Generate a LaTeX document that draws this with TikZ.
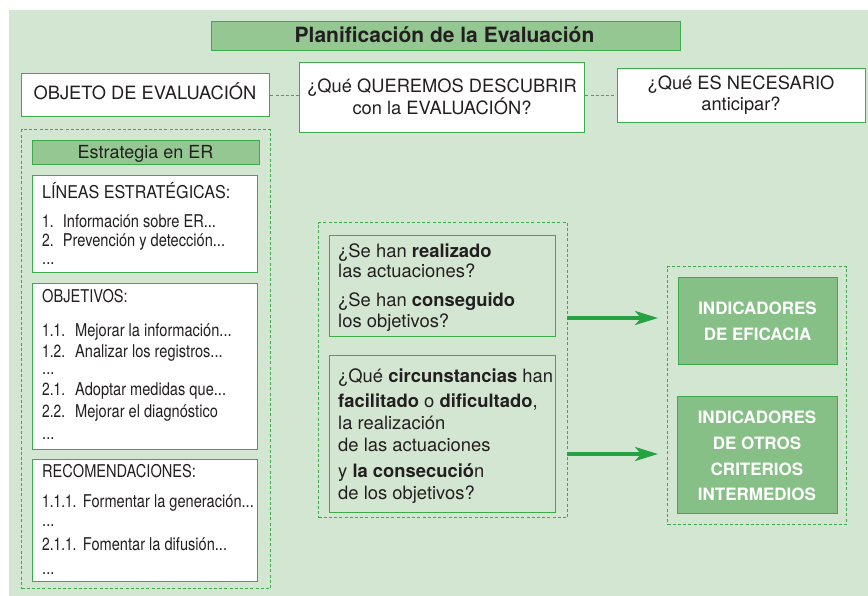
\documentclass[tikz,border=0pt]{standalone}
\usepackage{fontspec}
\setmainfont{TeX Gyre Heros}
\newfontfamily\condfont[FakeStretch=0.83]{TeX Gyre Heros}
\newfontfamily\condhead[FakeStretch=0.915]{TeX Gyre Heros}
\newfontfamily\numfont[FakeStretch=0.78]{TeX Gyre Heros}
\usetikzlibrary{arrows.meta}
\definecolor{bgc}{HTML}{D3E6D1}
\definecolor{gline}{HTML}{3DAB4B}
\definecolor{gfill}{HTML}{95C792}
\definecolor{ifill}{HTML}{87C087}
\definecolor{txt}{HTML}{231F20}
\definecolor{arr}{HTML}{27A243}
\tikzset{
  wbox/.style={draw=gline, line width=1.3pt, fill=white, inner sep=0pt, anchor=north west},
  mbox/.style={draw=gline, line width=1.3pt, inner sep=0pt, anchor=north west},
  gbox/.style={draw=gline, line width=1.3pt, fill=gfill, inner sep=0pt, anchor=north west},
  ibox/.style={draw=gline, line width=1.3pt, fill=ifill, inner sep=0pt, anchor=north west},
  dbox/.style={draw=gline, line width=1.1pt, dash pattern=on 3pt off 2.2pt, inner sep=0pt, anchor=north west},
  dlink/.style={draw=gline, line width=1.1pt, dash pattern=on 3pt off 2.2pt},
  alink/.style={draw=arr, line width=3.2pt, -{Stealth[length=23pt,width=14pt,inset=6pt]}, shorten >=9pt},
  ttl/.style={anchor=base, inner sep=0pt, text=txt, font=\bfseries\fontsize{21}{24}\selectfont},
  top/.style={anchor=base, inner sep=0pt, text=txt, font=\fontsize{18.3}{22}\selectfont},
  ln/.style={anchor=base west, inner sep=0pt, text=txt, font=\condfont\fontsize{17.6}{20}\selectfont},
  mq/.style={anchor=base west, inner sep=0pt, text=txt, font=\fontsize{18.4}{21}\selectfont},
  ind/.style={anchor=base, inner sep=0pt, text=white, font=\bfseries\fontsize{17}{20}\selectfont},
}
\newcommand{\nb}[2]{\makebox[#1pt][l]{\numfont #2}}
\begin{document}
\begin{tikzpicture}[x=1pt,y=-1pt]
\useasboundingbox (0,0) rectangle (868,596);
\fill[bgc] (9,10) rectangle (868,596);

% title
\node[gbox, minimum width=469pt, minimum height=29pt] (title) at (211,21) {};
\node[ttl] (titlet) at (444.5,43) {Planificación de la Evaluación};

% top row
\node[wbox, minimum width=248pt, minimum height=43pt] (objeto) at (21,73) {};
\node[top] (objetot) at (145,100) {OBJETO DE EVALUACIÓN};
\node[wbox, minimum width=285pt, minimum height=70pt] (quer) at (299,62) {};
\node[top] (quert1) at (442,93) {¿Qué QUEREMOS DESCUBRIR};
\node[top] (quert2) at (442,115) {con la EVALUACIÓN?};
\node[wbox, minimum width=248pt, minimum height=54pt] (nec) at (617,68) {};
\node[top] (nect1) at (741,90) {¿Qué ES NECESARIO};
\node[top] (nect2) at (741,111) {anticipar?};
\draw[dlink] (objeto.east) -- (objeto.east -| quer.west);
\draw[dlink] (quer.east |- nec.west) -- (nec.west);

% left column
\node[dbox, minimum width=249pt, minimum height=459pt] (left) at (21,129) {};
\node[gbox, minimum width=227pt, minimum height=24pt] (estr) at (32,140) {};
\node[top, font=\fontsize{18}{22}\selectfont] (estrt) at (145.5,158.5) {Estrategia en ER};

\node[wbox, minimum width=225pt, minimum height=97pt] (lin) at (32,175) {};
\node[ln, font=\condhead\fontsize{17.6}{20}\selectfont] (l1) at (42,199) {LÍNEAS ESTRATÉGICAS:};
\node[ln] (l2) at (42,228) {\nb{20.7}{1.}Información sobre ER...};
\node[ln] (l3) at (42,247) {\nb{20.7}{2.}Prevención y detección...};
\node[ln] (l4) at (42,265) {...};

\node[wbox, minimum width=225pt, minimum height=166pt] (obj) at (32,283) {};
\node[ln] (o1) at (42,302) {OBJETIVOS:};
\node[ln] (o2) at (42,336) {\nb{33}{1.1.}Mejorar la información...};
\node[ln] (o3) at (42,357) {\nb{33}{1.2.}Analizar los registros...};
\node[ln] (o4) at (42,374) {...};
\node[ln] (o5) at (42,395) {\nb{33}{2.1.}Adoptar medidas que...};
\node[ln] (o6) at (42,417) {\nb{33}{2.2.}Mejorar el diagnóstico};
\node[ln] (o7) at (42,439) {...};

\node[wbox, minimum width=225pt, minimum height=122pt] (rec) at (32,459) {};
\node[ln] (r1) at (42,477) {RECOMENDACIONES:};
\node[ln] (r2) at (42,507) {\nb{40.7}{1.1.1.}Formentar la generación...};
\node[ln] (r3) at (42,526) {...};
\node[ln] (r4) at (42,550) {\nb{40.7}{2.1.1.}Fomentar la difusión...};
\node[ln] (r5) at (42,574) {...};

% middle column
\node[dbox, minimum width=249pt, minimum height=295pt] (mid) at (318,222) {};
\node[mbox, minimum width=226pt, minimum height=101pt] (q1) at (329,235) {};
\node[mq] (q1a) at (338,258) {¿Se han \textbf{realizado}};
\node[mq] (q1b) at (338,278) {las actuaciones?};
\node[mq] (q1c) at (338,306) {¿Se han \textbf{conseguido}};
\node[mq] (q1d) at (338,327) {los objetivos?};

\node[mbox, minimum width=226pt, minimum height=157pt] (q2) at (329,355) {};
\node[mq] (q2a) at (338,382) {¿Qué \textbf{circunstancias} han};
\node[mq] (q2b) at (338,407) {\textbf{facilitado} o \textbf{dificultado},};
\node[mq] (q2c) at (338,429) {la realización};
\node[mq] (q2d) at (338,451) {de las actuaciones};
\node[mq] (q2e) at (338,477) {y \textbf{la consecució}n};
\node[mq] (q2f) at (338,499) {de los objetivos?};

% right column
\node[dbox, minimum width=179pt, minimum height=258pt] (right) at (667,266) {};
\node[ibox, minimum width=159pt, minimum height=87pt] (efic) at (678,277) {};
\node[ind] (e1) at (757.5,314) {INDICADORES};
\node[ind] (e2) at (757.5,341) {DE EFICACIA};
\node[ibox, minimum width=160pt, minimum height=117pt] (otros) at (677,396) {};
\node[ind] (t1) at (757,423) {INDICADORES};
\node[ind] (t2) at (757,449) {DE OTROS};
\node[ind] (t3) at (757,475) {CRITERIOS};
\node[ind] (t4) at (757,500) {INTERMEDIOS};

% arrows
\coordinate (a1) at (567,318);
\coordinate (a2) at (567,454);
\draw[alink] (a1) -- (a1 -| right.west);
\draw[alink] (a2) -- (a2 -| right.west);
\end{tikzpicture}
\end{document}
